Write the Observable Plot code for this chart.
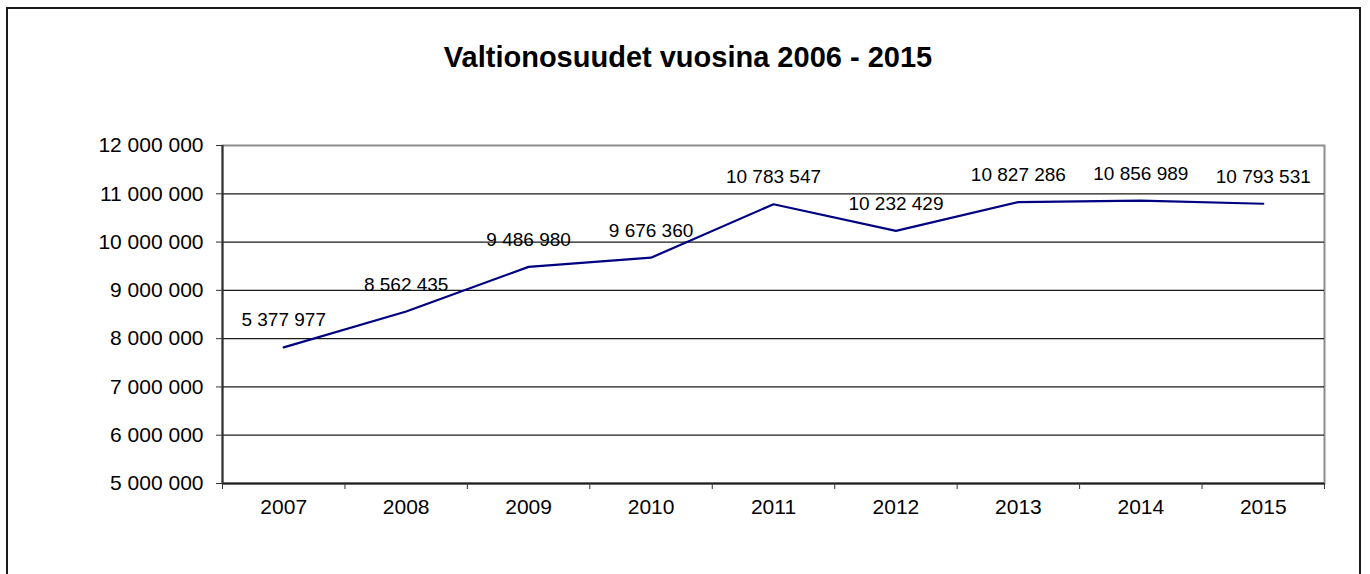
<!DOCTYPE html>
<html>
<head>
<meta charset="utf-8">
<script src="https://cdn.jsdelivr.net/npm/d3@7"></script>
<script src="https://cdn.jsdelivr.net/npm/@observablehq/plot@0.6"></script>
<style>
  html, body { margin: 0; padding: 0; background: #fff; }
  #wrap { position: relative; width: 1370px; height: 574px; overflow: hidden; font-family: "Liberation Sans", Arial, sans-serif; }
  #frame { position: absolute; left: 6px; top: 7px; width: 1355px; height: 640px; border: 2px solid #1a1a1a; box-sizing: border-box; }
  #title { position: absolute; left: 3px; top: 40px; width: 1370px; text-align: center; font-weight: bold; font-size: 29px; line-height: 34px; color: #000; }
  #chart { position: absolute; left: 0; top: 100px; }
</style>
</head>
<body>
<div id="wrap">
  <div id="frame"></div>
  <div id="title">Valtionosuudet vuosina 2006 - 2015</div>
  <div id="chart"></div>
</div>
<script>
const years = [2007, 2008, 2009, 2010, 2011, 2012, 2013, 2014, 2015];
const values = [7820000, 8562435, 9486980, 9676360, 10783547, 10232429, 10827286, 10856989, 10793531];
const labels = ["5 377 977", "8 562 435", "9 486 980", "9 676 360", "10 783 547", "10 232 429", "10 827 286", "10 856 989", "10 793 531"];
const yTicks = [5000000, 6000000, 7000000, 8000000, 9000000, 10000000, 11000000, 12000000];

const data = years.map((y, i) => ({year: y, value: values[i], label: labels[i]}));
const bounds = [years[0] - 0.5, ...years.map(y => y + 0.5)];
const fmt = d => d3.format(",")(d).replace(/,/g, " ");

const plot = Plot.plot({
  width: 1370,
  height: 474,
  marginTop: 45,
  marginBottom: 91,
  marginLeft: 222,
  marginRight: 46,
  style: {fontFamily: '"Liberation Sans", Arial, sans-serif', background: "transparent"},
  x: {domain: [bounds[0], bounds[bounds.length - 1]], axis: null},
  y: {domain: [yTicks[0], yTicks[yTicks.length - 1]], axis: null},
  marks: [
    Plot.frame({stroke: "#8c8c8c", strokeWidth: 2}),
    Plot.ruleY(yTicks.slice(1, -1), {stroke: "#1a1a1a", strokeWidth: 1.3}),
    Plot.ruleY([yTicks[0]], {stroke: "#1a1a1a", strokeWidth: 2}),
    Plot.ruleX([bounds[0]], {stroke: "#333", strokeWidth: 2}),
    Plot.axisY(yTicks, {tickSize: 6, tickPadding: 13, tickFormat: fmt, fontSize: 21, fill: "#000", stroke: "#333", label: null}),
    Plot.axisX(bounds, {tickSize: 6, tickFormat: () => "", stroke: "#333", label: null}),
    Plot.axisX(years, {tickSize: 0, tickPadding: 16, tickFormat: d => String(d), fontSize: 21, fill: "#000", label: null}),
    Plot.line(data, {x: "year", y: "value", stroke: "#000080", strokeWidth: 2.2}),
    Plot.text(data, {x: "year", y: "value", text: "label", dy: -27, fontSize: 19, fill: "#000"})
  ]
});
document.getElementById("chart").appendChild(plot);
</script>
</body>
</html>
